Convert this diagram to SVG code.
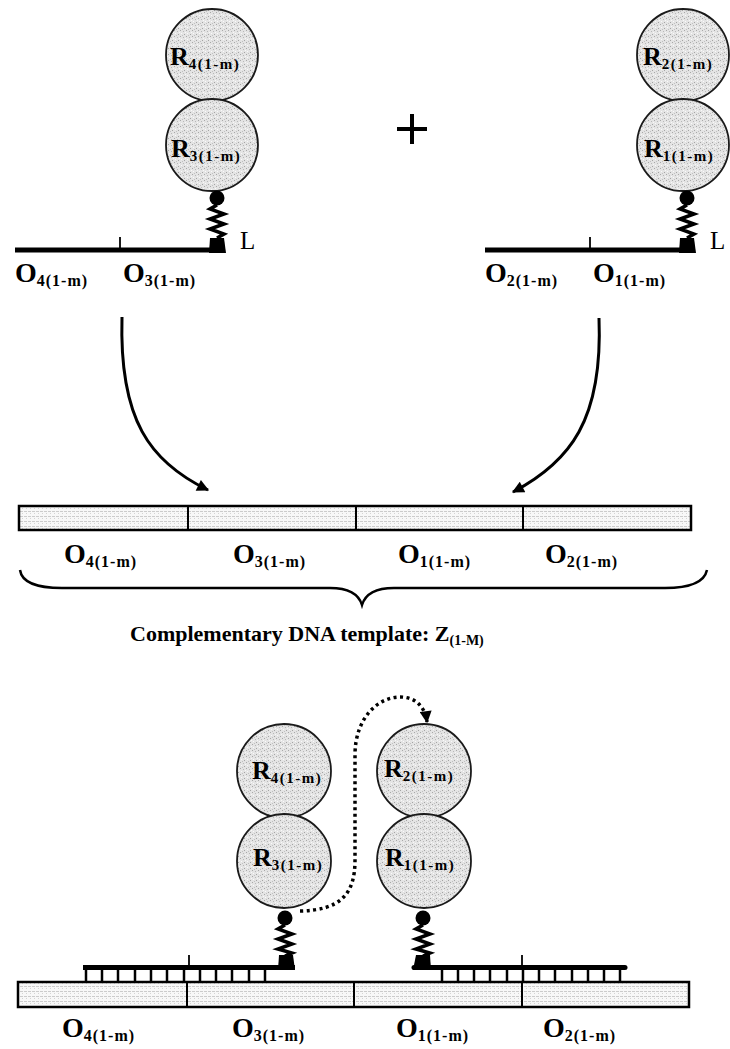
<svg xmlns="http://www.w3.org/2000/svg" width="730" height="1049" viewBox="0 0 730 1049">
<defs>
<pattern id="grain" width="6" height="6" patternUnits="userSpaceOnUse">
<rect width="6" height="6" fill="#e4e4e4"/>
<rect x="0" y="0" width="1" height="1" fill="#a8a8a8"/>
<rect x="3" y="1" width="1" height="1" fill="#b8b8b8"/>
<rect x="1" y="3" width="1" height="1" fill="#fafafa"/>
<rect x="4" y="4" width="1" height="1" fill="#a4a4a4"/>
<rect x="5" y="2" width="1" height="1" fill="#f8f8f8"/>
<rect x="2" y="5" width="1" height="1" fill="#c0c0c0"/>
</pattern>
<pattern id="stip" width="4" height="5" patternUnits="userSpaceOnUse">
<rect width="4" height="5" fill="#f8f8f8"/>
<rect x="0" y="1" width="3" height="1" fill="#cccccc"/>
<rect x="2" y="3" width="1" height="1" fill="#d4d4d4"/>
</pattern>
<marker id="ah" viewBox="0 0 10 10" refX="9" refY="5" markerWidth="16" markerHeight="12" markerUnits="userSpaceOnUse" orient="auto">
<path d="M0,0 L10,5 L0,10 z" fill="#000"/>
</marker>
<marker id="ahd" viewBox="0 0 10 10" refX="9" refY="5" markerWidth="14" markerHeight="12" markerUnits="userSpaceOnUse" orient="auto">
<path d="M0,0 L10,5 L0,10 z" fill="#000"/>
</marker>
</defs>
<style>
.ball{fill:url(#grain);stroke:#1a1a1a;stroke-width:1.8}
.t{font-family:"Liberation Serif","Times New Roman",serif;font-weight:bold;fill:#000}
.O{font-size:28px}
.Rl{font-size:26px}
.sO{font-size:16px;letter-spacing:1px}
.sR{font-size:15px;letter-spacing:1.5px}
.L{font-family:"Liberation Serif",serif;font-size:25px;fill:#000}
.strand{stroke:#000;stroke-width:5;fill:none}
.tick{stroke:#000;stroke-width:1.8}
.spring{fill:none;stroke:#000;stroke-width:3.5;stroke-linejoin:miter}
.bar{fill:url(#stip);stroke:#000;stroke-width:2.5}
.div{stroke:#000;stroke-width:2}
.tooth{stroke:#000;stroke-width:2.5}
.arr{fill:none;stroke:#000;stroke-width:3}
.dot{fill:none;stroke:#000;stroke-width:3.5;stroke-dasharray:3 3.5}
</style>

<g id="complex-top-left">
<circle class="ball" cx="212" cy="55" r="46"/>
<circle class="ball" cx="212" cy="145" r="46"/>
<text class="t Rl" x="170" y="65">R<tspan class="sR" dy="4">4(1-m)</tspan></text>
<text class="t Rl" x="171" y="157">R<tspan class="sR" dy="4">3(1-m)</tspan></text>
<circle cx="217" cy="198" r="7.5" fill="#000"/>
<polyline class="spring" points="217,205 210,209 224,214 210,219 224,224 210,229 224,234 217,238"/>
<path d="M210,238 L224,238 L226,253 L209,253 z" fill="#000"/>
<line class="strand" x1="15" y1="250" x2="225" y2="250"/>
<line class="tick" x1="120" y1="237" x2="120" y2="248"/>
<text class="L" x="240" y="249">L</text>
<text class="t O" x="15" y="282">O<tspan class="sO" dy="4">4(1-m)</tspan></text>
<text class="t O" x="123" y="282">O<tspan class="sO" dy="4">3(1-m)</tspan></text>
</g>

<g id="plus">
<line x1="397" y1="129" x2="427" y2="129" stroke="#000" stroke-width="4"/>
<line x1="412" y1="114" x2="412" y2="144" stroke="#000" stroke-width="4"/>
</g>

<g id="complex-top-right">
<circle class="ball" cx="683" cy="55" r="46"/>
<circle class="ball" cx="683" cy="145" r="46"/>
<text class="t Rl" x="643" y="65">R<tspan class="sR" dy="4">2(1-m)</tspan></text>
<text class="t Rl" x="644" y="157">R<tspan class="sR" dy="4">1(1-m)</tspan></text>
<circle cx="687" cy="198" r="7.5" fill="#000"/>
<polyline class="spring" points="687,205 680,209 694,214 680,219 694,224 680,229 694,234 687,238"/>
<path d="M680,238 L694,238 L696,253 L679,253 z" fill="#000"/>
<line class="strand" x1="485" y1="250" x2="695" y2="250"/>
<line class="tick" x1="590" y1="237" x2="590" y2="248"/>
<text class="L" x="710" y="249">L</text>
<text class="t O" x="485" y="282">O<tspan class="sO" dy="4">2(1-m)</tspan></text>
<text class="t O" x="593" y="282">O<tspan class="sO" dy="4">1(1-m)</tspan></text>
</g>

<g id="template-top">
<rect class="bar" x="19" y="506" width="672" height="24"/>
<line class="div" x1="188" y1="506" x2="188" y2="530"/>
<line class="div" x1="356" y1="506" x2="356" y2="530"/>
<line class="div" x1="523" y1="506" x2="523" y2="530"/>
<text class="t O" x="64" y="563">O<tspan class="sO" dy="4">4(1-m)</tspan></text>
<text class="t O" x="233" y="563">O<tspan class="sO" dy="4">3(1-m)</tspan></text>
<text class="t O" x="398" y="563">O<tspan class="sO" dy="4">1(1-m)</tspan></text>
<text class="t O" x="545" y="563">O<tspan class="sO" dy="4">2(1-m)</tspan></text>
<path d="M20,570 C22,584 40,588 62,588 L330,588 C350,588 359,595 362,605 C365,595 374,588 394,588 L665,588 C687,588 704,584 707,570" fill="none" stroke="#000" stroke-width="2.5"/>
<text class="t" x="130" y="641" font-size="22">Complementary DNA template: Z<tspan font-size="14" dy="4">(1-M)</tspan></text>
</g>

<g id="complex-bottom-left">
<circle class="ball" cx="284" cy="771" r="47"/>
<circle class="ball" cx="284" cy="861" r="47"/>
<text class="t Rl" x="252" y="779">R<tspan class="sR" dy="4">4(1-m)</tspan></text>
<text class="t Rl" x="253" y="866">R<tspan class="sR" dy="4">3(1-m)</tspan></text>
<circle cx="285" cy="918" r="7.5" fill="#000"/>
<polyline class="spring" points="285,925 278,929 292,934 278,939 292,944 278,949 292,953 285,956"/>
<path d="M279,955 L293,955 L295,970 L278,970 z" fill="#000"/>
<line class="strand" x1="83" y1="967.5" x2="295" y2="967.5"/>
<line class="tick" x1="189" y1="955" x2="189" y2="965"/>
<g class="tooth">
<line x1="86" y1="969" x2="86" y2="982"/><line x1="102" y1="969" x2="102" y2="982"/><line x1="118" y1="969" x2="118" y2="982"/><line x1="135" y1="969" x2="135" y2="982"/><line x1="151" y1="969" x2="151" y2="982"/><line x1="167" y1="969" x2="167" y2="982"/><line x1="184" y1="969" x2="184" y2="982"/><line x1="200" y1="969" x2="200" y2="982"/><line x1="216" y1="969" x2="216" y2="982"/><line x1="232" y1="969" x2="232" y2="982"/><line x1="249" y1="969" x2="249" y2="982"/><line x1="265" y1="969" x2="265" y2="982"/>
</g>
</g>

<g id="complex-bottom-right">
<circle class="ball" cx="424" cy="771" r="47"/>
<circle class="ball" cx="424" cy="861" r="47"/>
<text class="t Rl" x="384" y="777">R<tspan class="sR" dy="4">2(1-m)</tspan></text>
<text class="t Rl" x="385" y="866">R<tspan class="sR" dy="4">1(1-m)</tspan></text>
<circle cx="423" cy="918" r="7.5" fill="#000"/>
<polyline class="spring" points="423,925 416,929 430,934 416,939 430,944 416,949 430,953 423,956"/>
<path d="M416,955 L430,955 L431,970 L413,970 z" fill="#000"/>
<line class="strand" x1="414" y1="967.5" x2="625" y2="967.5" stroke-linecap="round"/>
<line class="tick" x1="522" y1="955" x2="522" y2="965"/>
<g class="tooth">
<line x1="442" y1="969" x2="442" y2="982"/><line x1="458" y1="969" x2="458" y2="982"/><line x1="474" y1="969" x2="474" y2="982"/><line x1="490" y1="969" x2="490" y2="982"/><line x1="507" y1="969" x2="507" y2="982"/><line x1="523" y1="969" x2="523" y2="982"/><line x1="539" y1="969" x2="539" y2="982"/><line x1="555" y1="969" x2="555" y2="982"/><line x1="572" y1="969" x2="572" y2="982"/><line x1="588" y1="969" x2="588" y2="982"/><line x1="604" y1="969" x2="604" y2="982"/><line x1="620" y1="969" x2="620" y2="982"/>
</g>
</g>

<g id="template-bottom">
<rect class="bar" x="18" y="982" width="671" height="25"/>
<line class="div" x1="187" y1="982" x2="187" y2="1007"/>
<line class="div" x1="354" y1="982" x2="354" y2="1007"/>
<line class="div" x1="522" y1="982" x2="522" y2="1007"/>
<text class="t O" x="62" y="1037">O<tspan class="sO" dy="4">4(1-m)</tspan></text>
<text class="t O" x="232" y="1037">O<tspan class="sO" dy="4">3(1-m)</tspan></text>
<text class="t O" x="396" y="1037">O<tspan class="sO" dy="4">1(1-m)</tspan></text>
<text class="t O" x="543" y="1037">O<tspan class="sO" dy="4">2(1-m)</tspan></text>
</g>

<g id="connectors">
<path class="arr" d="M122,317 C119,420 150,462 208,490" marker-end="url(#ah)"/>
<path class="arr" d="M599,318 C603,420 570,462 513,492" marker-end="url(#ah)"/>
<path class="dot" d="M300,911 C340,910 355,895 355,860 L355,755 C355,718 378,697 400,697 C415,697 425,706 427,722" marker-end="url(#ahd)"/>
</g>
</svg>
